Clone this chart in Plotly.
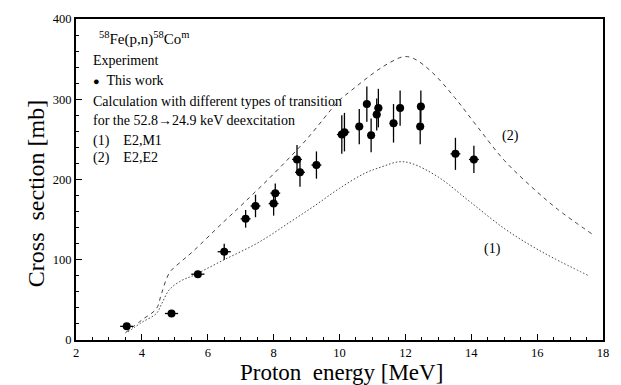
import plotly.graph_objects as go

# Experimental data (this work)
exp_x = [3.54, 4.9, 5.7, 6.5, 7.15, 7.45, 8.0, 8.05, 8.71, 8.8, 9.3, 10.07, 10.15,
         10.6, 10.83, 10.96, 11.13, 11.18, 11.64, 11.84, 12.47, 12.45, 13.52, 14.08]
exp_y = [17, 33, 82, 110, 151, 167, 170, 183, 225, 209, 218, 256, 259,
         266, 294, 255, 281, 289, 270, 289, 291, 266, 232, 225]
exp_dy = [4, 3, 4, 10, 11, 14, 15, 12, 18, 18, 17, 24, 24,
          22, 22, 21, 20, 24, 24, 22, 20, 22, 20, 17]
exp_dx = [0.2, 0.2, 0.2, 0.2, 0.15, 0.15, 0.15, 0.15, 0.15, 0.15, 0.15, 0.15, 0.15,
          0.12, 0.12, 0.12, 0.12, 0.12, 0.12, 0.12, 0.12, 0.12, 0.15, 0.15]

# Calculation (2) E2,E2 - dashed
c2_x = [3.5, 4.0, 4.44, 4.59, 4.84, 5.2, 5.54, 6.45, 7.1, 8.0, 9.0, 9.98, 10.33,
        11.08, 11.5, 11.94, 12.24, 12.8, 13.5, 14.2, 15.0, 15.8, 16.62, 17.67]
c2_y = [9, 25, 39, 57, 84, 98, 110, 146, 171, 207, 250, 298, 310,
        334, 345, 353, 351, 334, 302, 265, 224, 192, 163, 132]

# Calculation (1) E2,M1 - dotted
c1_x = [3.58, 4.0, 4.44, 4.6, 4.84, 5.2, 5.54, 6.45, 7.56, 8.5, 9.27, 10.0, 10.78,
        11.3, 11.79, 12.19, 13.0, 14.0, 15.0, 15.8, 16.5, 17.57]
c1_y = [10, 22, 33, 45, 63, 74, 80, 99, 122, 147, 168, 189, 208,
        216, 222, 220, 203, 171, 139, 118, 102, 80]

FONT = '"Liberation Serif", "Times New Roman", serif'

fig = go.Figure()
fig.add_trace(go.Scatter(x=c2_x, y=c2_y, mode="lines",
                         line=dict(color="#444", width=1, dash="4px,4px", shape="spline"),
                         showlegend=False, hoverinfo="skip"))
fig.add_trace(go.Scatter(x=c1_x, y=c1_y, mode="lines",
                         line=dict(color="#444", width=1, dash="1.5px,2px", shape="spline"),
                         showlegend=False, hoverinfo="skip"))
fig.add_trace(go.Scatter(x=exp_x, y=exp_y, mode="markers",
                         marker=dict(color="black", size=8),
                         error_y=dict(type="data", array=exp_dy, color="black", thickness=1.3, width=0),
                         error_x=dict(type="data", array=exp_dx, color="black", thickness=1.3, width=0),
                         showlegend=False))

ann = [
    dict(x=0.040, y=0.939, text="<sup>58</sup>Fe(p,n)<sup>58</sup>Co<sup>m</sup>", size=15),
    dict(x=0.028, y=0.872, text="Experiment", size=14),
    dict(x=0.028, y=0.807, text="<span style='font-size:11px'>●</span>  This work", size=14),
    dict(x=0.028, y=0.743, text="Calculation with different types of transition", size=14),
    dict(x=0.028, y=0.685, text="for the 52.8→24.9 keV deexcitation", size=14),
    dict(x=0.028, y=0.621, text="(1)    E2,M1", size=14),
    dict(x=0.028, y=0.566, text="(2)    E2,E2", size=14),
]
for a in ann:
    fig.add_annotation(x=a["x"], y=a["y"], xref="paper", yref="paper", text=a["text"], showarrow=False,
                       xanchor="left", yanchor="middle", font=dict(family=FONT, size=a["size"], color="black"))
fig.add_annotation(x=15.2, y=254, text="(2)", showarrow=False, xref="x", yref="y",
                   font=dict(family=FONT, size=14, color="black"))
fig.add_annotation(x=14.65, y=114, text="(1)", showarrow=False, xref="x", yref="y",
                   font=dict(family=FONT, size=14, color="black"))
# axis titles
fig.add_annotation(x=0.5047, y=-0.100, xref="paper", yref="paper", text="Proton  energy [MeV]",
                   showarrow=False, xanchor="center", yanchor="middle",
                   font=dict(family=FONT, size=23, color="black"))
fig.add_annotation(x=-0.0755, y=0.455, xref="paper", yref="paper", text="Cross  section [mb]",
                   showarrow=False, xanchor="center", yanchor="middle", textangle=-90,
                   font=dict(family=FONT, size=24, color="black"))

axis_common = dict(showline=True, linewidth=2, linecolor="black", mirror=True, ticks="inside",
                   tickcolor="black", tickwidth=1, ticklen=6, showgrid=False, zeroline=False,
                   tickfont=dict(family=FONT, size=12.5, color="black"))
fig.update_xaxes(range=[2, 18], dtick=2, tick0=2,
                 minor=dict(dtick=0.5, ticks="inside", ticklen=3, tickcolor="black", showgrid=False),
                 **axis_common)
fig.update_yaxes(range=[0, 400], dtick=100,
                 minor=dict(dtick=20, ticks="inside", ticklen=3, tickcolor="black", showgrid=False),
                 **axis_common)
fig.update_layout(width=621, height=385, margin=dict(l=76, r=15, t=13, b=45),
                  plot_bgcolor="white", paper_bgcolor="white")
fig.write_html("out.html")
